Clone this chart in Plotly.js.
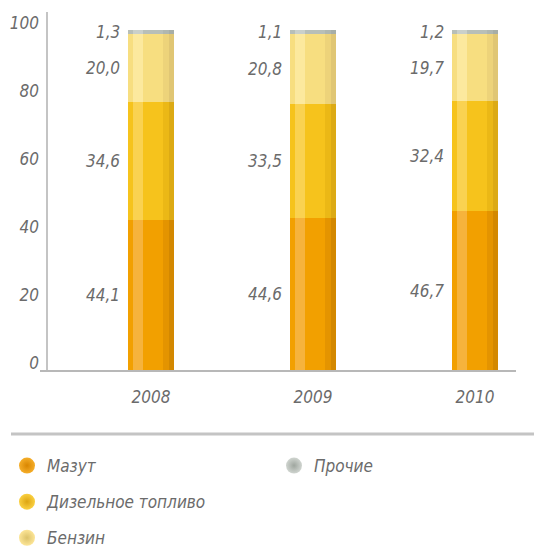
<!DOCTYPE html>
<html>
<head>
<meta charset="utf-8">
<script src="https://cdn.plot.ly/plotly-3.0.1.min.js"></script>
<style>
html,body{margin:0;padding:0;background:#fff;}
#chart{width:534px;height:550px;}
</style>
</head>
<body>
<div id="chart"></div>
<script>
// ---- data ----
const years = ['2008', '2009', '2010'];
const seriesNames = ['Мазут', 'Дизельное топливо', 'Бензин', 'Прочие'];
const mazut = [44.1, 44.6, 46.7];
const diesel = [34.6, 33.5, 32.4];
const benzin = [20.0, 20.8, 19.7];
const other = [1.3, 1.1, 1.2];
const yTicks = [0, 20, 40, 60, 80, 100];

// ---- styles ----
const FONT = 'DejaVu Sans Condensed, Liberation Sans Narrow, sans-serif';
const TXT = '#6b6b6b';
const palette = [
  {base: '#F2A000', light: '#F6B33C', dark1: '#E49400', dark2: '#D38800', leg: '#F5AE2A', legEdge: '#D98600'},
  {base: '#F6C31C', light: '#FAD251', dark1: '#EBB816', dark2: '#DCAA14', leg: '#FAD041', legEdge: '#DDA512'},
  {base: '#F7DE80', light: '#FCE99E', dark1: '#EDD37A', dark2: '#E0C674', leg: '#FCE597', legEdge: '#DCC26A'},
  {base: '#B8BFB8', light: '#CAD0CA', dark1: '#B0B7B0', dark2: '#A7AEA7', leg: '#D0D5D0', legEdge: '#9FA69F'}
];
const PX_PER_UNIT = 162;      // horizontal pixels per category step
const BAR_PX = 46;
const layers = [               // [left offset px, width px, colour key]
  [0, 46, 'base'],
  [5, 10, 'light'],
  [35, 6, 'dark1'],
  [41, 5, 'dark2']
];

const series = [mazut, diesel, benzin, other];
const xs = years.map((_, i) => i);
const traces = [];
const annotations = [];
const fmt = v => v.toFixed(1).replace('.', ',');
const half = BAR_PX / 2 / PX_PER_UNIT;

let cum = years.map(() => 0);
series.forEach((vals, s) => {
  const bases = cum.slice();
  layers.forEach(([off, w, key]) => {
    traces.push({
      type: 'bar', x: xs, y: vals, base: bases,
      width: w / PX_PER_UNIT, offset: -half + off / PX_PER_UNIT,
      marker: {color: palette[s][key], line: {width: 0}},
      showlegend: false, hoverinfo: 'skip'
    });
  });
  vals.forEach((v, i) => {
    annotations.push({
      x: i - half, y: bases[i] + v / 2, xref: 'x', yref: 'y',
      text: fmt(v), showarrow: false, xanchor: 'right', yanchor: 'middle', xshift: -6,
      font: {family: FONT, size: 17, color: TXT, style: 'italic'}
    });
  });
  cum = cum.map((c, i) => c + vals[i]);
});

// legend-only traces
series.forEach((vals, s) => {
  traces.push({
    type: 'scatter', mode: 'markers', x: [null], y: [null],
    name: seriesNames[s], legend: s < 3 ? 'legend' : 'legend2', legendgroup: 'g' + s,
    marker: {size: 20, color: palette[s].leg, gradient: {type: 'radial', color: palette[s].legEdge}},
    hoverinfo: 'skip'
  });
});

const plotL = 40, plotR = 516, plotT = 12, plotB = 370;
const px2paperX = p => (p - plotL) / (plotR - plotL);
const px2paperY = p => (plotB - p) / (plotB - plotT);

const layout = {
  width: 534, height: 550,
  margin: {l: plotL, r: 534 - plotR, t: plotT, b: 550 - plotB, pad: 0, autoexpand: false},
  paper_bgcolor: '#fff', plot_bgcolor: '#fff',
  barmode: 'overlay', bargap: 0,
  font: {family: FONT, color: TXT, size: 17, style: 'italic'},
  xaxis: {
    range: [-(151 - plotL) / PX_PER_UNIT, (plotR - 151) / PX_PER_UNIT],
    tickvals: xs, ticktext: years, showgrid: false, zeroline: false,
    showline: true, linecolor: '#b8b8b8', linewidth: 1.5, ticks: '',
    ticklabelstandoff: 11, automargin: false,
    tickfont: {family: FONT, size: 17, color: TXT, style: 'italic'}, fixedrange: true
  },
  yaxis: {
    range: [0, 105.3], tickvals: yTicks, showgrid: false, zeroline: false,
    showline: false, ticks: '', ticklabelshift: -7, ticklabelstandoff: 0, automargin: false,
    tickfont: {family: FONT, size: 17, color: TXT, style: 'italic'}, fixedrange: true
  },
  shapes: [
    {type: 'line', xref: 'paper', yref: 'paper', x0: px2paperX(47), x1: px2paperX(47), y0: 0, y1: 1,
     line: {color: '#b0b0b0', width: 1.5}},
    {type: 'line', xref: 'paper', yref: 'paper', x0: px2paperX(11), x1: px2paperX(540), y0: px2paperY(434), y1: px2paperY(434),
     line: {color: '#c4c4c4', width: 3}}
  ],
  annotations: annotations,
  legend: {
    x: px2paperX(7), y: px2paperY(448), xanchor: 'left', yanchor: 'top',
    orientation: 'v', traceorder: 'grouped', tracegroupgap: 11,
    bgcolor: 'rgba(0,0,0,0)', font: {family: FONT, size: 17, color: TXT, style: 'italic'}
  },
  legend2: {
    x: px2paperX(274), y: px2paperY(448), xanchor: 'left', yanchor: 'top',
    orientation: 'v', bgcolor: 'rgba(0,0,0,0)', font: {family: FONT, size: 17, color: TXT, style: 'italic'}
  },
  showlegend: true
};

Plotly.newPlot('chart', traces, layout, {displayModeBar: false, staticPlot: true});
</script>
</body>
</html>
